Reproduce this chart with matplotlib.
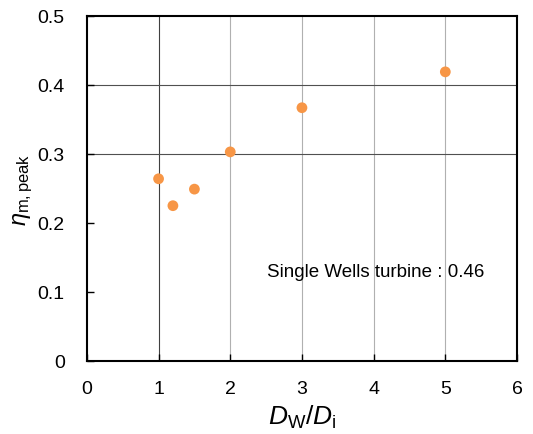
import matplotlib
matplotlib.use('Agg')
import matplotlib.pyplot as plt

# data
dw_di = [1.0, 1.2, 1.5, 2.0, 3.0, 5.0]
eta_peak = [0.264, 0.225, 0.249, 0.303, 0.367, 0.419]
x_ticks = [0, 1, 2, 3, 4, 5, 6]
y_ticks = [0, 0.1, 0.2, 0.3, 0.4, 0.5]
y_tick_labels = ['0', '0.1', '0.2', '0.3', '0.4', '0.5']
note = 'Single Wells turbine : 0.46'

plt.rcParams['font.family'] = ['Liberation Sans', 'DejaVu Sans']
plt.rcParams['mathtext.fontset'] = 'custom'
plt.rcParams['mathtext.rm'] = 'Liberation Sans'
plt.rcParams['mathtext.it'] = 'Liberation Sans:italic'

fig = plt.figure(figsize=(5.33, 4.35), dpi=100)
ax = fig.add_axes([0.163, 0.168, 0.807, 0.793])

# grid lines (only some are drawn in the original)
ax.axvline(1, color='#404040', lw=0.8, zorder=1)
for xv in [2, 3, 4, 5]:
    ax.axvline(xv, color='#b0b0b0', lw=0.8, zorder=1)
for yv in [0.3, 0.4]:
    ax.axhline(yv, color='#505050', lw=0.8, zorder=1)

ax.scatter(dw_di, eta_peak, s=60, color='#F79646', edgecolors='none', zorder=3)

ax.set_xlim(0, 6)
ax.set_ylim(0, 0.5)
ax.set_xticks(x_ticks)
ax.set_yticks(y_ticks)
ax.set_yticklabels(y_tick_labels)
ax.tick_params(direction='in', length=5, width=1, labelsize=14)
ax.tick_params(axis='x', pad=14)
ax.tick_params(axis='y', pad=16)
for s in ax.spines.values():
    s.set_linewidth(1.5)

ax.set_xlabel(r'$D_{\mathrm{W}}/D_{\mathrm{i}}$', fontsize=19, labelpad=4)
ax.set_ylabel(r'$\eta_{\mathrm{m,peak}}$', fontsize=17, labelpad=2)

ax.text(2.51, 0.13, note, fontsize=13.5, ha='left', va='center', zorder=4)

fig.savefig('out.png', dpi=100)
